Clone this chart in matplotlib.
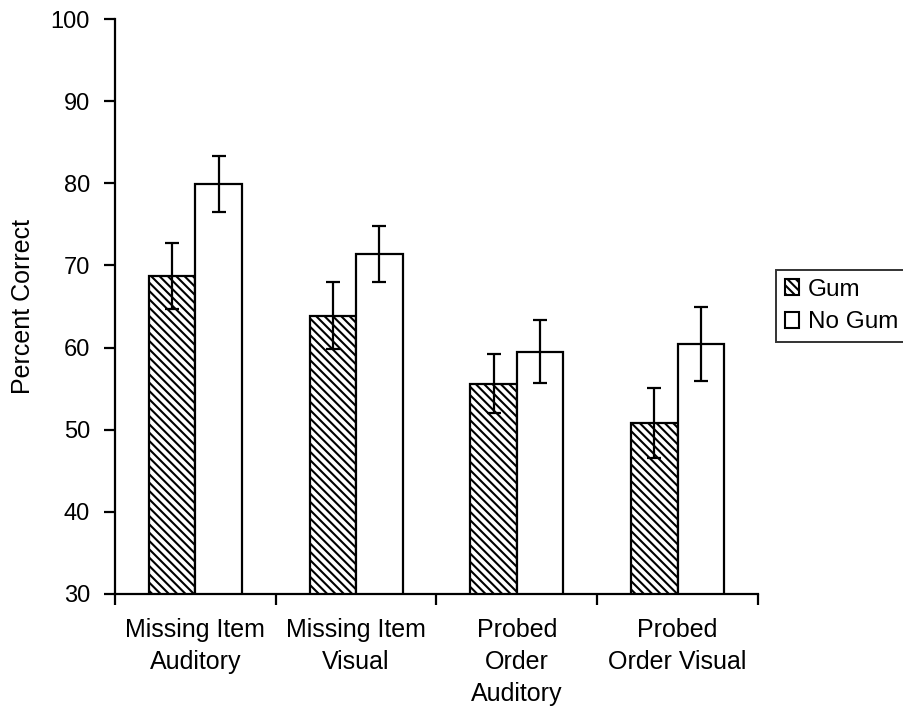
import matplotlib
matplotlib.use("Agg")
import matplotlib.pyplot as plt
import numpy as np
from matplotlib.patches import Patch

plt.rcParams['font.family'] = ['Liberation Sans', 'DejaVu Sans']
plt.rcParams['hatch.linewidth'] = 1.5
plt.rcParams['hatch.color'] = '#4a4a4a'

categories = ["Missing Item\nAuditory", "Missing Item\nVisual", "Probed\nOrder\nAuditory", "Probed\nOrder Visual"]
gum = [68.7, 63.9, 55.6, 50.8]
gum_err = [4.0, 4.1, 3.6, 4.3]
nogum = [79.9, 71.4, 59.5, 60.4]
nogum_err = [3.4, 3.4, 3.8, 4.5]
yticks = [30, 40, 50, 60, 70, 80, 90, 100]

fig = plt.figure(figsize=(9.04, 7.11), dpi=100)
ax = fig.add_axes([115/904, 117/711, (758-115)/904, (594-19)/711])

n = len(categories)
x = np.arange(n) + 0.5
w = 0.29
ax.bar(x - w/2, gum, w, color='white', edgecolor='black', hatch='\\\\\\\\', linewidth=1.6, zorder=2)
ax.bar(x + w/2, nogum, w, color='white', edgecolor='black', linewidth=1.6, zorder=2)
ax.errorbar(x - w/2, gum, yerr=gum_err, fmt='none', ecolor='black', elinewidth=1.6, capsize=5, capthick=1.6, zorder=3)
ax.errorbar(x + w/2, nogum, yerr=nogum_err, fmt='none', ecolor='black', elinewidth=1.6, capsize=5, capthick=1.6, zorder=3)

ax.set_xlim(0, n)
ax.set_ylim(30, 100)
ax.set_yticks(yticks)
ax.set_xticks(x)
ax.set_xticklabels(categories, fontsize=18, linespacing=1.42)
ax.set_xticks(np.arange(n + 1), minor=True)
ax.tick_params(axis='x', which='major', length=0, pad=17)
ax.tick_params(axis='x', which='minor', length=8, width=1.6, direction='out')
ax.tick_params(axis='y', length=8, width=1.6, direction='out', labelsize=17, pad=10)
for s in ['top', 'right']:
    ax.spines[s].set_visible(False)
for s in ['left', 'bottom']:
    ax.spines[s].set_linewidth(1.6)
ax.set_ylabel("Percent Correct", fontsize=18, labelpad=11)

handles = [Patch(facecolor='white', edgecolor='black', hatch='\\\\\\\\', linewidth=1.5, label='Gum'),
           Patch(facecolor='white', edgecolor='black', linewidth=1.5, label='No Gum')]
leg = fig.legend(handles=handles, loc='upper left', bbox_to_anchor=(776/904, 1 - 270/711),
                 fontsize=17.5, frameon=True, fancybox=False, edgecolor='black',
                 handlelength=0.6, handleheight=0.6, handletextpad=0.35, borderpad=0.35,
                 labelspacing=0.45, borderaxespad=0)
leg.get_frame().set_linewidth(1.4)

fig.savefig("out.png", dpi=100)
